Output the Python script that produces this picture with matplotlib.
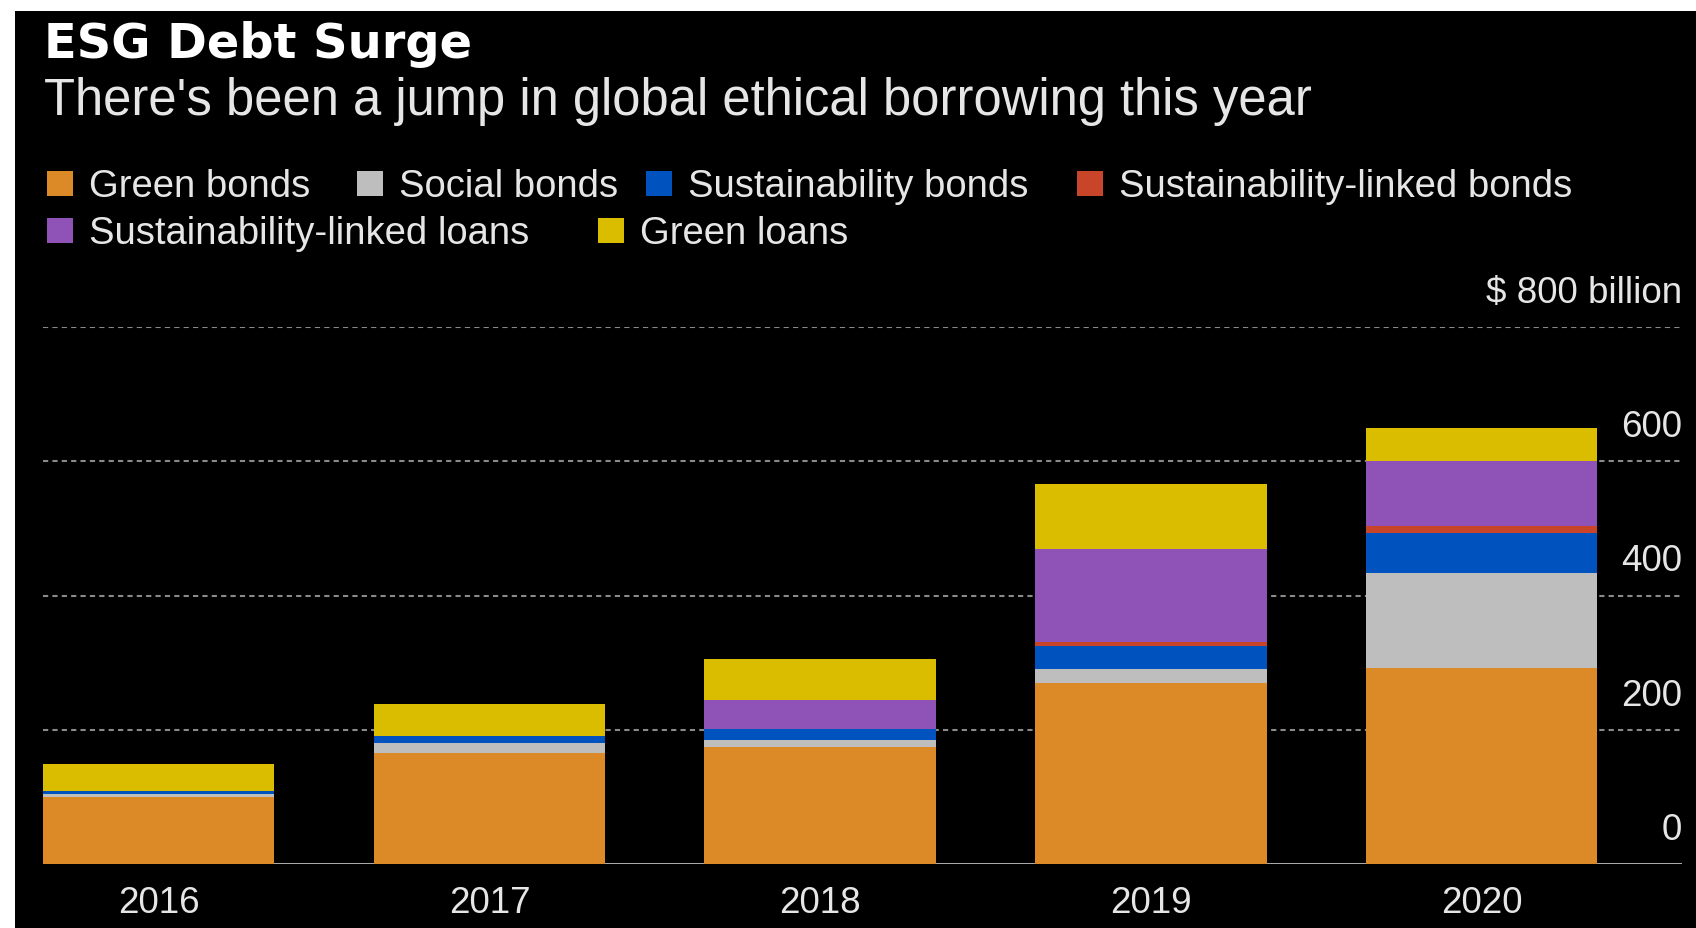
import matplotlib
matplotlib.use("Agg")
import matplotlib.pyplot as plt
from matplotlib.patches import Rectangle
import numpy as np

# Emissões anuais de dívida ESG (US$ bilhões)
anos = ['2016', '2017', '2018', '2019', '2020']
green_bonds = [100, 166, 174, 269, 292]
social_bonds = [4, 14, 10, 21, 141]
sustainability_bonds = [5, 10, 17, 35, 60]
sl_bonds = [0, 0, 0, 5, 10]
sl_loans = [0, 0, 44, 139, 98]
green_loans = [40, 49, 61, 97, 49]

series = [
    ("Green bonds", green_bonds, "#DB8A27"),
    ("Social bonds", social_bonds, "#BEBEBE"),
    ("Sustainability bonds", sustainability_bonds, "#0052BF"),
    ("Sustainability-linked bonds", sl_bonds, "#C8452A"),
    ("Sustainability-linked loans", sl_loans, "#8F53B8"),
    ("Green loans", green_loans, "#DBBD00"),
]
y_ticks = [0, 200, 400, 600, 800]
y_labels = ['0', '200', '400', '600', '$ 800 billion']

plt.rcParams['font.family'] = ['Liberation Sans', 'DejaVu Sans']
W, H = 1696, 929
fig = plt.figure(figsize=(W / 100, H / 100), dpi=100, facecolor='black')

# pequena margem branca à esquerda e no topo
fig.patches.append(Rectangle((0, 0), 15 / W, 1, transform=fig.transFigure,
                             facecolor='white', edgecolor='none', zorder=-5))
fig.patches.append(Rectangle((0, 1 - 12 / H), 1, 12 / H, transform=fig.transFigure,
                             facecolor='white', edgecolor='none', zorder=-5))

ax = fig.add_axes([43 / W, (H - 865) / H, (1682 - 43) / W, (865 - 328) / H])
ax.set_facecolor('none')

x = np.arange(len(anos))
base = np.zeros(len(anos))
for nome, valores, cor in series:
    ax.bar(x, valores, width=0.70, bottom=base, color=cor, label=nome, zorder=3)
    base = base + np.array(valores)

# linhas de grade pontilhadas e linha de base
for v in y_ticks[1:]:
    ax.axhline(v, color='#8a8a8a', lw=1.5, linestyle=(0, (2.5, 2)), zorder=1)
ax.axhline(0, color='#bdbdbd', lw=2, zorder=2)

# rótulos do eixo Y acima das linhas de grade, alinhados à direita
for v, txt in zip(y_ticks, y_labels):
    ax.annotate(txt, xy=(1.0, v), xycoords=('axes fraction', 'data'),
                xytext=(0, 25), textcoords='offset pixels',
                ha='right', va='baseline', fontsize=26.5, color='#e6e6e6')

ax.set_xlim(-0.35, 4.606)
ax.set_ylim(0, 800)
ax.set_xticks(x, anos)
ax.tick_params(axis='x', length=0, pad=15, labelsize=26.5, labelcolor='#e6e6e6')
ax.set_yticks([])
for s in ax.spines.values():
    s.set_visible(False)

# título e subtítulo
fig.text(44 / W, 1 - 58.5 / H, "ESG Debt Surge", fontsize=34.5, fontweight='bold',
         family=['DejaVu Sans'], color='white', va='baseline')
fig.text(44 / W, 1 - 114.5 / H, "There's been a jump in global ethical borrowing this year",
         fontsize=36.5, color='#e6e6e6', va='baseline')

# legenda em duas linhas: quadrado colorido + texto
posicoes = [(47, 197), (357, 197), (646, 197), (1077, 197), (47, 244), (598, 244)]
for (nome, _, cor), (px, py) in zip(series, posicoes):
    fig.patches.append(Rectangle((px / W, 1 - py / H), 26 / W, 25 / H,
                                 transform=fig.transFigure, facecolor=cor,
                                 edgecolor='none'))
    fig.text((px + 42) / W, 1 - py / H, nome, fontsize=27.5, color='#e6e6e6',
             va='baseline')

fig.savefig("out.png", dpi=100, facecolor=fig.get_facecolor())
